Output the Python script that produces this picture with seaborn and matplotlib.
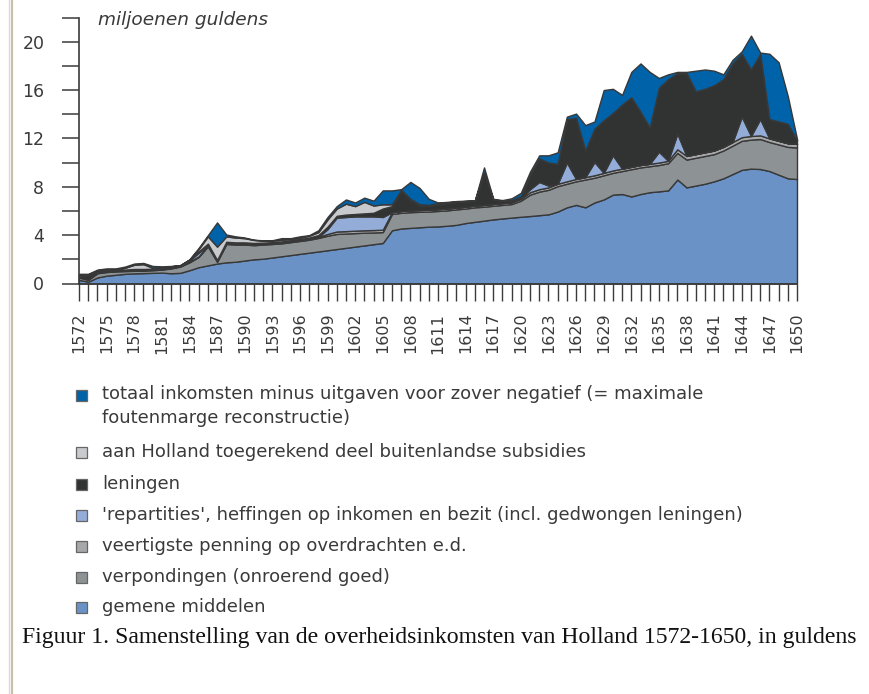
import numpy as np
import pandas as pd
import matplotlib
matplotlib.use("Agg")
import matplotlib.pyplot as plt
from matplotlib.patches import Rectangle
from matplotlib.lines import Line2D
import seaborn as sns

# jaren en lagen (miljoenen guldens), van onder naar boven gestapeld
years = list(range(1572, 1651))

gemene = [0.30, 0.15, 0.50, 0.65, 0.72, 0.80, 0.84, 0.86, 0.88, 0.90,
          0.85, 0.88, 1.10, 1.35, 1.50, 1.65, 1.75, 1.80, 1.90, 2.00,
          2.05, 2.15, 2.25, 2.35, 2.45, 2.55, 2.65, 2.75, 2.85, 2.95,
          3.05, 3.15, 3.25, 3.35, 4.40, 4.55, 4.60, 4.65, 4.70, 4.72,
          4.78, 4.85, 5.00, 5.10, 5.20, 5.30, 5.38, 5.45, 5.52, 5.58,
          5.65, 5.72, 5.95, 6.30, 6.50, 6.30, 6.70, 6.95, 7.35, 7.40,
          7.20, 7.40, 7.55, 7.62, 7.70, 8.60, 7.95, 8.10, 8.25, 8.45,
          8.70, 9.05, 9.40, 9.50, 9.47, 9.30, 9.00, 8.70, 8.64]

verpond = [0.20, 0.15, 0.35, 0.30, 0.28, 0.23, 0.21, 0.21, 0.22, 0.25,
           0.40, 0.52, 0.65, 0.85, 1.57, 0.15, 1.52, 1.42, 1.32, 1.17,
           1.17, 1.12, 1.07, 1.07, 1.07, 1.07, 1.12, 1.20, 1.25, 1.18,
           1.12, 1.05, 0.97, 0.90, 1.35, 1.30, 1.30, 1.28, 1.25, 1.28,
           1.27, 1.28, 1.20, 1.20, 1.15, 1.13, 1.12, 1.12, 1.33, 1.77,
           1.95, 2.03, 2.10, 1.95, 1.95, 2.30, 2.05, 2.00, 1.80, 1.90,
           2.25, 2.20, 2.15, 2.18, 2.25, 2.20, 2.30, 2.30, 2.30, 2.25,
           2.30, 2.35, 2.40, 2.40, 2.48, 2.40, 2.50, 2.60, 2.61]

veertig = [0.05, 0.05, 0.05, 0.05, 0.05, 0.05, 0.05, 0.05, 0.05, 0.05,
           0.05, 0.05, 0.05, 0.05, 0.08, 0.05, 0.08, 0.08, 0.08, 0.08,
           0.08, 0.08, 0.08, 0.08, 0.08, 0.08, 0.08, 0.15, 0.20, 0.20,
           0.20, 0.20, 0.20, 0.20, 0.15, 0.15, 0.15, 0.15, 0.15, 0.15,
           0.15, 0.15, 0.15, 0.15, 0.15, 0.15, 0.15, 0.15, 0.15, 0.20,
           0.20, 0.20, 0.20, 0.20, 0.20, 0.20, 0.20, 0.20, 0.20, 0.20,
           0.20, 0.20, 0.20, 0.20, 0.20, 0.30, 0.30, 0.30, 0.30, 0.30,
           0.30, 0.30, 0.30, 0.30, 0.30, 0.30, 0.30, 0.30, 0.30]

repart = [0.00, 0.05, 0.10, 0.05, 0.00, 0.00, 0.00, 0.00, 0.00, 0.00,
          0.00, 0.00, 0.10, 0.30, 0.00, 0.00, 0.00, 0.00, 0.00, 0.00,
          0.00, 0.00, 0.00, 0.00, 0.00, 0.00, 0.00, 0.40, 1.15, 1.17,
          1.18, 1.15, 1.13, 1.05, 0.00, 0.00, 0.00, 0.00, 0.00, 0.00,
          0.00, 0.00, 0.00, 0.00, 0.00, 0.00, 0.00, 0.00, 0.05, 0.25,
          0.60, 0.15, 0.00, 1.55, 0.00, 0.00, 1.10, 0.00, 1.25, 0.00,
          0.00, 0.00, 0.00, 0.90, 0.00, 1.30, 0.00, 0.00, 0.00, 0.00,
          0.00, 0.00, 1.70, 0.00, 1.35, 0.00, 0.00, 0.00, 0.00]

lening = [0.10, 0.25, 0.05, 0.05, 0.05, 0.07, 0.10, 0.08, 0.07, 0.08,
          0.08, 0.05, 0.05, 0.10, 0.15, 0.10, 0.10, 0.10, 0.10, 0.10,
          0.08, 0.07, 0.08, 0.08, 0.08, 0.10, 0.15, 0.20, 0.15, 0.20,
          0.20, 0.25, 0.30, 0.70, 0.50, 1.70, 0.85, 0.37, 0.30, 0.40,
          0.45, 0.47, 0.45, 0.40, 2.70, 0.37, 0.20, 0.18, 0.15, 1.20,
          1.95, 1.90, 1.65, 3.60, 5.05, 2.20, 2.75, 4.35, 3.50, 5.30,
          5.75, 4.40, 3.00, 5.30, 6.75, 5.00, 6.85, 5.20, 5.25, 5.40,
          5.60, 6.50, 5.20, 5.50, 5.40, 1.60, 1.60, 1.60, 0.30]

subsid = [0.10, 0.10, 0.05, 0.05, 0.05, 0.15, 0.35, 0.40, 0.08, 0.04,
          0.04, 0.02, 0.03, 0.20, 0.60, 1.10, 0.45, 0.40, 0.35, 0.25,
          0.17, 0.13, 0.14, 0.12, 0.12, 0.15, 0.25, 0.60, 0.60, 0.90,
          0.65, 0.95, 0.60, 0.35, 0.15, 0.05, 0.10, 0.10, 0.10, 0.10,
          0.05, 0.03, 0.02, 0.00, 0.00, 0.00, 0.00, 0.00, 0.00, 0.00,
          0.00, 0.00, 0.00, 0.00, 0.00, 0.00, 0.00, 0.00, 0.00, 0.00,
          0.00, 0.00, 0.00, 0.00, 0.00, 0.00, 0.00, 0.00, 0.00, 0.00,
          0.00, 0.00, 0.00, 0.00, 0.00, 0.00, 0.00, 0.00, 0.00]

negatief = [0.05, 0.05, 0.05, 0.10, 0.10, 0.10, 0.10, 0.10, 0.15, 0.10,
            0.03, 0.00, 0.02, 0.10, 0.10, 2.00, 0.15, 0.10, 0.05, 0.02,
            0.02, 0.03, 0.13, 0.05, 0.10, 0.05, 0.15, 0.20, 0.20, 0.35,
            0.30, 0.35, 0.40, 1.15, 1.15, 0.05, 1.40, 1.35, 0.50, 0.05,
            0.05, 0.04, 0.03, 0.03, 0.40, 0.05, 0.05, 0.15, 0.30, 0.25,
            0.25, 0.60, 0.95, 0.20, 0.35, 2.10, 0.60, 2.50, 2.00, 0.80,
            2.10, 4.00, 4.60, 0.80, 0.40, 0.10, 0.10, 1.70, 1.60, 1.20,
            0.40, 0.30, 0.20, 2.80, 0.10, 5.40, 4.90, 2.30, 0.10]

labels = [
    "gemene middelen",
    "verpondingen (onroerend goed)",
    "veertigste penning op overdrachten e.d.",
    "'repartities', heffingen op inkomen en bezit (incl. gedwongen leningen)",
    "leningen",
    "aan Holland toegerekend deel buitenlandse subsidies",
    "totaal inkomsten minus uitgaven voor zover negatief (= maximale\nfoutenmarge reconstructie)",
]
kleuren = ["#6a92c6", "#8d9294", "#a6a8aa", "#93acd8", "#303331", "#c9cacd", "#0062a8"]

df = pd.DataFrame({"jaar": years, "gemene": gemene, "verpond": verpond,
                   "veertig": veertig, "repart": repart, "lening": lening,
                   "subsid": subsid, "negatief": negatief})

sns.set_theme(style="ticks")
plt.rcParams['font.family'] = ['DejaVu Sans']
tekst = "#3a3a3a"

fig = plt.figure(figsize=(8.69, 6.94), dpi=100)
ax = fig.add_axes([79 / 869, 1 - 283.5 / 694, 718 / 869, 266 / 694])

lagen = df[["gemene", "verpond", "veertig", "repart", "lening", "subsid", "negatief"]].T.values
ax.stackplot(df["jaar"], lagen, colors=kleuren, edgecolor="#383838", linewidth=1.0)
for coll in ax.collections:
    coll.set_clip_on(False)

ax.set_xlim(1572, 1650)
ax.set_ylim(0, 22)
ax.set_facecolor("white")

# y-as: streepjes per 2, getallen per 4
ax.set_yticks(np.arange(0, 21, 4))
ax.set_yticks(np.arange(2, 23, 4), minor=True)
ax.tick_params(axis="y", which="both", direction="out", length=12, width=1.1,
               color="#3a3a3a", labelsize=12.5, labelcolor=tekst, pad=13)

# x-as: streepje per jaar, label per 3 jaar
ax.set_xticks(years[::3])
ax.set_xticks(years, minor=True)
ax.set_xticklabels([str(j) for j in years[::3]], rotation=90)
ax.tick_params(axis="x", which="both", direction="out", length=12, width=1.0,
               color="#3a3a3a")
ax.tick_params(axis="x", which="major", labelsize=11.5, labelcolor=tekst, pad=9)

sns.despine(ax=ax, top=True, right=True)
for kant in ["left", "bottom"]:
    ax.spines[kant].set_color("#3a3a3a")
    ax.spines[kant].set_linewidth(1.2)
ax.grid(False)

fig.text(98 / 869, 1 - 20 / 694, "miljoenen guldens", fontsize=13.3, style="italic",
         color=tekst, va="center", ha="left")

# legenda onder de grafiek (van boven naar beneden)
rij_y = [395, 452, 484, 515, 546, 577, 607]
for k, idx in enumerate(range(len(labels) - 1, -1, -1)):
    yc = rij_y[k]
    fig.add_artist(Rectangle((76 / 869, 1 - (yc + 5.5) / 694), 11 / 869, 11 / 694,
                             transform=fig.transFigure, facecolor=kleuren[idx],
                             edgecolor="#666666", linewidth=0.9))
    if "\n" in labels[idx]:
        fig.text(102 / 869, 1 - (yc - 10) / 694, labels[idx], fontsize=13, color=tekst,
                 va="top", ha="left", linespacing=1.45)
    else:
        fig.text(102 / 869, 1 - yc / 694, labels[idx], fontsize=13, color=tekst,
                 va="center", ha="left")

fig.text(22 / 869, 1 - 637 / 694,
         "Figuur 1. Samenstelling van de overheidsinkomsten van Holland 1572-1650, in guldens",
         family="Liberation Serif", fontsize=17.1, color="#111111", va="center", ha="left")

# paginarand links
fig.add_artist(Line2D([8.5 / 869, 8.5 / 869], [0, 1], transform=fig.transFigure,
                      color="#dedad0", linewidth=1.0))
fig.add_artist(Line2D([11.5 / 869, 11.5 / 869], [0, 1], transform=fig.transFigure,
                      color="#c8c0aa", linewidth=1.6))

fig.savefig("out.png", dpi=100, facecolor="white")
